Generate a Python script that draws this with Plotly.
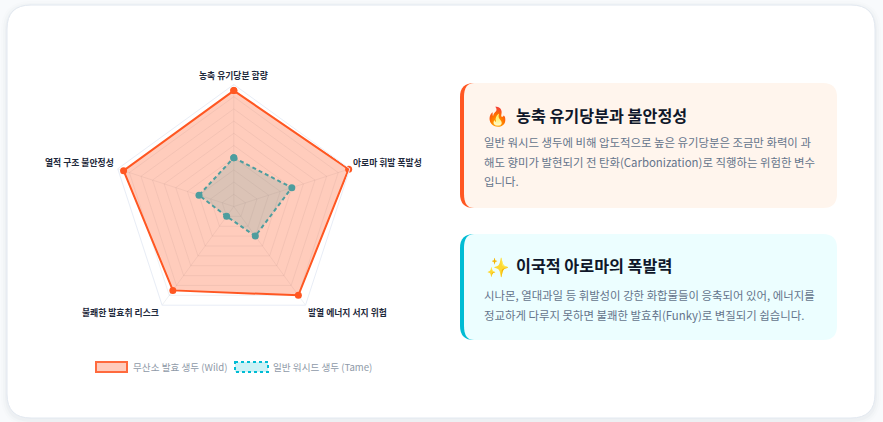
import plotly.graph_objects as go

categories = ["농축 유기당분 함량", "아로마 휘발 폭발성", "발열 에너지 서지 위험", "불쾌한 발효취 리스크", "열적 구조 불안정성"]
wild_values = [95, 99, 90, 85, 95]
tame_values = [40, 50, 30, 10, 30]
wild_name = "무산소 발효 생두 (Wild)"
tame_name = "일반 워시드 생두 (Tame)"

card1_title = "농축 유기당분과 불안정성"
card1_lines = ["일반 워시드 생두에 비해 압도적으로 높은 유기당분은 조금만 화력이 과",
               "해도 향미가 발현되기 전 탄화(Carbonization)로 직행하는 위험한 변수",
               "입니다."]
card2_title = "이국적 아로마의 폭발력"
card2_lines = ["시나몬, 열대과일 등 휘발성이 강한 화합물들이 응축되어 있어, 에너지를",
               "정교하게 다루지 못하면 불쾌한 발효취(Funky)로 변질되기 쉽습니다."]

W, H = 883, 422
FONT = "Noto Sans CJK KR"
ORANGE = "#ff5722"
CYAN = "#00bcd4"


def rrect(x0, y0, x1, y1, rl, rr=None, rlx=None):
    # rounded rect path, y goes down. rlx lets the left corners be elliptical
    rr = rl if rr is None else rr
    rlx = rl if rlx is None else rlx
    return (f"M{x0 + rlx},{y0} L{x1 - rr},{y0} Q{x1},{y0} {x1},{y0 + rr} "
            f"L{x1},{y1 - rr} Q{x1},{y1} {x1 - rr},{y1} L{x0 + rlx},{y1} "
            f"Q{x0},{y1} {x0},{y1 - rl} L{x0},{y0 + rl} Q{x0},{y0} {x0 + rlx},{y0} Z")


def box(path, fill, line=None, width=0, dash=None):
    return dict(type="path", xref="x", yref="y", path=path, fillcolor=fill, layer="below",
                line=dict(color=line or "rgba(0,0,0,0)", width=width, dash=dash or "solid"))


def label(x, y, text, size, color, anchor="left", bold=False):
    if bold:
        text = f"<b>{text}</b>"
    return dict(xref="x", yref="y", x=x, y=y, text=text, showarrow=False, xanchor=anchor, yanchor="middle",
                font=dict(family=FONT, size=size, color=color))


fig = go.Figure()

# invisible trace keeps the pixel-coordinate axes alive
fig.add_trace(go.Scatter(x=[0], y=[0], mode="none", showlegend=False, hoverinfo="skip"))

fig.add_trace(go.Scatterpolar(
    r=tame_values + tame_values[:1], theta=categories + categories[:1], name=tame_name, mode="lines+markers",
    fill="toself", fillcolor="rgba(0,188,212,0.2)", line=dict(color=CYAN, width=2, dash="4px,3px"),
    marker=dict(color=CYAN, size=7), showlegend=False, cliponaxis=False))
fig.add_trace(go.Scatterpolar(
    r=wild_values + wild_values[:1], theta=categories + categories[:1], name=wild_name, mode="lines+markers",
    fill="toself", fillcolor="rgba(255,87,34,0.3)", line=dict(color=ORANGE, width=2),
    marker=dict(color=ORANGE, size=7), showlegend=False, cliponaxis=False))

shapes = []
# card shadow
for i, a in zip([6, 4, 2], [0.015, 0.025, 0.035]):
    shapes.append(box(rrect(7 - i, 5 - i + 2, 875 + i, 418 + i + 2, 24 + i), f"rgba(100,116,139,{a})"))
shapes.append(box(rrect(7, 5, 875, 418, 24), "#ffffff", "#e2e8f0", 1))
# info cards
shapes.append(box(rrect(460, 83, 500, 208, 14), ORANGE))
shapes.append(box(rrect(464, 83, 837, 208, 14, 14, 10), "#fff5ed"))
shapes.append(box(rrect(460, 234, 500, 340, 14), CYAN))
shapes.append(box(rrect(464, 234, 837, 340, 14, 14, 10), "#ecfeff"))
# legend swatches
shapes.append(box("M96,362 L127,362 L127,372 L96,372 Z", "rgba(255,87,34,0.3)", "#ff6a3d", 2))
shapes.append(box("M235,362 L268,362 L268,372 L235,372 Z", "rgba(0,188,212,0.2)", CYAN, 2, "3px,3px"))

ann = [
    label(131, 367, wild_name, 9.6, "#8f9aa8"),
    label(271, 367, tame_name, 9.6, "#8f9aa8"),
    label(484, 115, "🔥", 18.5, "#ff5722"),
    label(514, 115, card1_title, 16.2, "#0f172a", bold=True),
    label(484, 265, "✨", 19, "#ffb020"),
    label(514, 265, card2_title, 16.2, "#0f172a", bold=True),
    # radar labels sit higher than the native tick labels would
    label(233.5, 75.5, categories[0], 8.8, "#1e293b", "center", True),
    label(351, 162, categories[1], 8.8, "#1e293b", "left", True),
    label(306, 312.5, categories[2], 8.8, "#1e293b", "left", True),
    label(160.5, 312.5, categories[3], 8.8, "#1e293b", "right", True),
    label(115.5, 162.5, categories[4], 8.8, "#1e293b", "right", True),
]
for i, line in enumerate(card1_lines):
    ann.append(label(482, 142 + i * 19.5, line, 11.4, "#64748b"))
for i, line in enumerate(card2_lines):
    ann.append(label(482, 295 + i * 19.5, line, 11.4, "#64748b"))

cx, cy, R = 233.8, 206.5, 122
fig.update_layout(
    width=W, height=H, margin=dict(l=0, r=0, t=0, b=0), paper_bgcolor="#f8fafc", plot_bgcolor="rgba(0,0,0,0)",
    showlegend=False, shapes=shapes, annotations=ann, font=dict(family=FONT),
    xaxis=dict(range=[0, W], visible=False, domain=[0, 1], fixedrange=True),
    yaxis=dict(range=[H, 0], visible=False, domain=[0, 1], fixedrange=True),
    polar=dict(
        domain=dict(x=[(cx - R) / W, (cx + R) / W], y=[1 - (cy + R) / H, 1 - (cy - R) / H]),
        bgcolor="rgba(0,0,0,0)", gridshape="linear",
        radialaxis=dict(range=[0, 100], dtick=10, showticklabels=False, ticks="", showline=False,
                        gridcolor="rgba(100,116,139,0.10)", gridwidth=1),
        angularaxis=dict(rotation=90, direction="clockwise", ticks="", showline=True, linecolor="#e8edf6", linewidth=1,
                         showticklabels=False, gridcolor="rgba(100,116,139,0.10)", gridwidth=1),
    ),
)

fig.write_html("out.html", config=dict(displayModeBar=False),
               post_script="document.body.style.margin='0';document.body.style.overflow='hidden';")
